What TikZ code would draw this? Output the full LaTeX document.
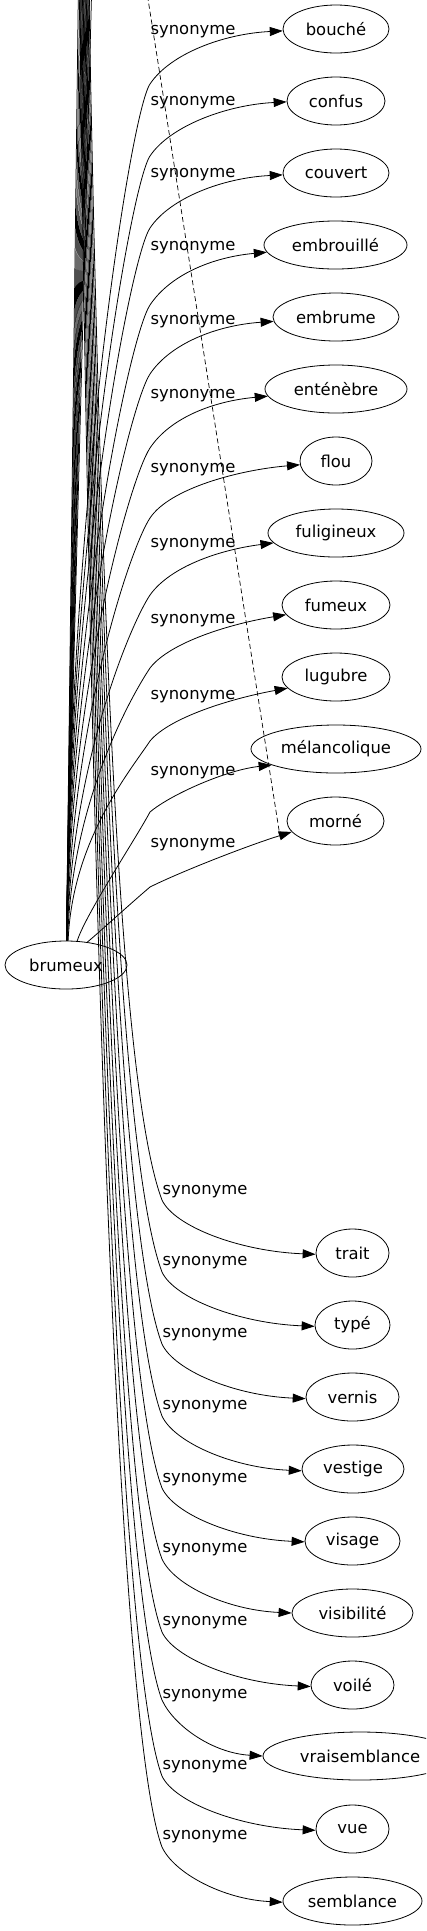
\documentclass[tikz,border=0pt]{standalone}
\usepackage{fontspec}
\setmainfont{DejaVu Sans}
\usetikzlibrary{arrows.meta,shapes.geometric,calc}
\begin{document}
\begin{tikzpicture}[x=1pt,y=-1pt,
  word/.style={ellipse,draw,line width=0.8pt,minimum height=48pt,inner sep=0pt,font=\fontsize{16.4}{20}\selectfont},
  lab/.style={inner sep=0pt,font=\fontsize{16.4}{20}\selectfont},
  syn/.style={draw,line width=0.8pt,-{Triangle[length=13pt,width=9pt]}},
  plainedge/.style={draw,line width=0.75pt},
  dashedge/.style={draw,line width=0.7pt,dash pattern=on 5pt off 3pt}]
\useasboundingbox (0,0) rectangle (426,1931);
\clip (0,0) rectangle (426,1931);
% nodes
\node[word,minimum width=106pt] (bouche) at (336,29) {bouché};
\node[word,minimum width=98pt] (confus) at (336,101) {confus};
\node[word,minimum width=106pt] (couvert) at (336,173) {couvert};
\node[word,minimum width=143pt] (embrouille) at (335.5,245) {embrouillé};
\node[word,minimum width=126pt] (embrume) at (336,317) {embrume};
\node[word,minimum width=142pt] (entenebre) at (336,389) {enténèbre};
\node[word,minimum width=72pt] (flou) at (336,461) {flou};
\node[word,minimum width=136pt] (fuligineux) at (336,533) {fuligineux};
\node[word,minimum width=108pt] (fumeux) at (336,605) {fumeux};
\node[word,minimum width=108pt] (lugubre) at (336,677) {lugubre};
\node[word,minimum width=170pt] (melancolique) at (336,749) {mélancolique};
\node[word,minimum width=97pt] (morne) at (335.5,821) {morné};
\node[word,minimum width=122pt] (brumeux) at (66,965) {brumeux};
\node[word,minimum width=73pt] (trait) at (352.5,1253) {trait};
\node[word,minimum width=75pt] (type) at (352.5,1325) {typé};
\node[word,minimum width=93pt] (vernis) at (352.5,1397) {vernis};
\node[word,minimum width=102pt] (vestige) at (353,1469) {vestige};
\node[word,minimum width=95pt] (visage) at (352.5,1541) {visage};
\node[word,minimum width=121pt] (visibilite) at (352.5,1613) {visibilité};
\node[word,minimum width=83pt] (voile) at (352.5,1685) {voilé};
\node[word,minimum width=194pt] (vraisemblance) at (360,1756) {vraisemblance};
\node[word,minimum width=73pt] (vue) at (352.5,1829) {vue};
\node[word,minimum width=139pt] (semblance) at (352.5,1901) {semblance};
% labels
\foreach \yy [count=\i] in {32,103,175,248,322,396,470,545,621,697,773,845}
  \node[lab] (lu\i) at (193,\yy) {synonyme};
\foreach \yy [count=\i] in {1192,1263,1335,1407,1480,1550,1623,1696,1767,1837}
  \node[lab] (ll\i) at (205,\yy) {synonyme};
% edges going up out of the frame from brumeux
\foreach \xx [count=\i] in {79,80.5,82,83.5,85,86.5,88,89.5,91,93}{
  \coordinate (up\i) at (\xx,-60);
  \draw[plainedge] (brumeux.89) -- (up\i);
}
% upper synonym edges
\coordinate (b1) at (150,84);
\coordinate (b2) at (150,156);
\coordinate (b3) at (150,228);
\coordinate (b4) at (150,305);
\coordinate (b5) at (150,374);
\coordinate (b6) at (150,448);
\coordinate (b7) at (150,518);
\coordinate (b8) at (150,595);
\coordinate (b9) at (150,668);
\coordinate (b10) at (150,741);
\coordinate (b11) at (150,812);
\coordinate (b12) at (150,887);
\draw[syn] (brumeux.88) .. controls +(2,-428) and +(-20,30) .. (b1) .. controls +(20,-30) and +(-60,3) .. (bouche.182);
\draw[syn] (brumeux.88) .. controls +(2,-392) and +(-20,30) .. (b2) .. controls +(20,-30) and +(-60,3) .. (confus.181);
\draw[syn] (brumeux.88) .. controls +(2,-356) and +(-20,30) .. (b3) .. controls +(20,-30) and +(-60,3) .. (couvert.182);
\draw[syn] (brumeux.88) .. controls +(2,-318) and +(-20,30) .. (b4) .. controls +(20,-30) and +(-55,5) .. (embrouille.186);
\draw[syn] (brumeux.88) .. controls +(2,-283) and +(-20,30) .. (b5) .. controls +(20,-30) and +(-58,4) .. (embrume.184);
\draw[syn] (brumeux.88) .. controls +(2,-246) and +(-20,30) .. (b6) .. controls +(20,-30) and +(-55,5) .. (entenebre.186);
\draw[syn] (brumeux.87) .. controls +(2,-211) and +(-20,30) .. (b7) .. controls +(20,-30) and +(-60,5) .. (flou.186);
\draw[syn] (brumeux.87) .. controls +(3,-173) and +(-20,30) .. (b8) .. controls +(20,-28) and +(-55,7) .. (fuligineux.189);
\draw[syn] (brumeux.86) .. controls +(3,-136) and +(-20,30) .. (b9) .. controls +(20,-26) and +(-55,9) .. (fumeux.191);
\draw[syn] (brumeux.85) .. controls +(4,-100) and +(-20,30) .. (b10) .. controls +(20,-24) and +(-55,10) .. (lugubre.193);
\draw[syn] (brumeux.65) .. controls +(8,-26) and +(-15,28) .. (b11) .. controls +(20,-17) and +(-46,5) .. (melancolique.194);
\draw[syn] (brumeux.47) .. controls +(12,-10) and +(-20,17) .. (b12) .. controls +(30,-15) and +(-45,14) .. (morne.194);
% lower synonym edges coming from above the frame
\coordinate (s1) at (88,-60);
\coordinate (s2) at (87,-60);
\coordinate (s3) at (86,-60);
\coordinate (s4) at (85,-60);
\coordinate (s5) at (84,-60);
\coordinate (s6) at (83,-60);
\coordinate (s7) at (82,-60);
\coordinate (s8) at (81,-60);
\coordinate (s9) at (80,-60);
\coordinate (s10) at (79,-60);
\coordinate (c1) at (162,1200);
\coordinate (c2) at (162,1272);
\coordinate (c3) at (162,1344);
\coordinate (c4) at (162,1416);
\coordinate (c5) at (162,1488);
\coordinate (c6) at (162,1559);
\coordinate (c7) at (162,1632);
\coordinate (c8) at (162,1700);
\coordinate (c9) at (162,1776);
\coordinate (c10) at (162,1847);
\draw[syn] (s1) .. controls +(13,756) and +(-38,-100) .. (c1) .. controls +(12,26) and +(-77,-3) .. (trait.182);
\draw[syn] (s2) .. controls +(13,799) and +(-38,-100) .. (c2) .. controls +(12,26) and +(-76,-3) .. (type.182);
\draw[syn] (s3) .. controls +(13,842) and +(-38,-100) .. (c3) .. controls +(12,26) and +(-72,-3) .. (vernis.182);
\draw[syn] (s4) .. controls +(13,886) and +(-38,-100) .. (c4) .. controls +(12,26) and +(-70,-3) .. (vestige.182);
\draw[syn] (s5) .. controls +(13,929) and +(-38,-100) .. (c5) .. controls +(12,26) and +(-71,-3) .. (visage.181);
\draw[syn] (s6) .. controls +(13,971) and +(-38,-100) .. (c6) .. controls +(12,26) and +(-65,-3) .. (visibilite.180);
\draw[syn] (s7) .. controls +(13,1015) and +(-38,-100) .. (c7) .. controls +(12,26) and +(-74,-3) .. (voile.182);
\draw[syn] (s8) .. controls +(13,1056) and +(-38,-100) .. (c8) .. controls +(12,26) and +(-50,-3) .. (vraisemblance.180);
\draw[syn] (s9) .. controls +(13,1102) and +(-38,-100) .. (c9) .. controls +(12,26) and +(-77,-3) .. (vue.182);
\draw[syn] (s10) .. controls +(13,1144) and +(-38,-100) .. (c10) .. controls +(12,26) and +(-60,-3) .. (semblance.181);
% dashed edge from above to morné
\coordinate (dtop) at (145,-20);
\draw[dashedge] (dtop) -- ($(morne.194)+(-12,3)$);
\end{tikzpicture}
\end{document}
